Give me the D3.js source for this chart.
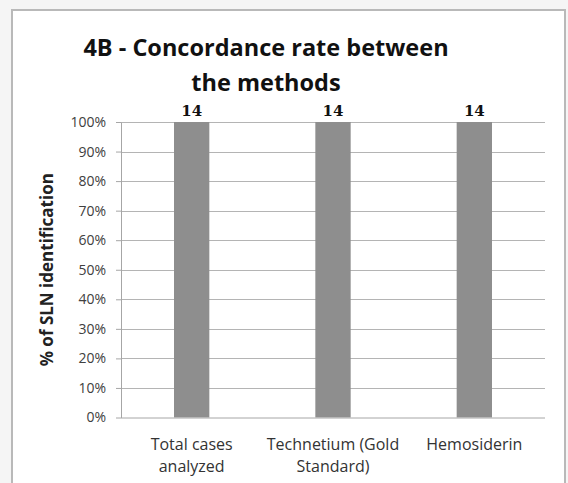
<!DOCTYPE html>
<html>
<head>
<meta charset="utf-8">
<style>
  body { margin: 0; background-color: #f5f5f5; }
  svg { font-family: 'Open Sans', sans-serif; }
  .grid line { stroke: #b4b4b4; stroke-width: 1px; }
  .axis path, .axis line { stroke: #a6a6a6; }
  .axis text { fill: #404040; }
</style>
</head>
<body>
<script src="https://d3js.org/d3.v7.min.js"></script>
<div id="chart"></div>
<script>

// data
var categories = [["Total cases", "analyzed"], ["Technetium (Gold", "Standard)"], ["Hemosiderin"]];
var percents = [100, 100, 100];
var counts = [14, 14, 14];
var yTicks = [0, 10, 20, 30, 40, 50, 60, 70, 80, 90, 100];

var W = 568, H = 483;
var margin = {top: 122, left: 121, right: 23, bottom: 65};
var width = W - margin.left - margin.right,
    height = H - margin.top - margin.bottom - 0.5;

var svg = d3.select("#chart").append("svg")
    .attr("width", W)
    .attr("height", H);

// frame
svg.append("rect")
    .attr("x", 12).attr("y", 10)
    .attr("width", 553).attr("height", 480)
    .attr("fill", "white")
    .attr("stroke", "#b9b9b9")
    .attr("stroke-width", 2);

// title
var title = svg.append("text")
    .attr("text-anchor", "middle")
    .attr("font-weight", "bold")
    .attr("font-size", "23.5px")
    .attr("fill", "#111");
title.append("tspan").attr("x", 266).attr("y", 56).text("4B - Concordance rate between");
title.append("tspan").attr("x", 266).attr("y", 91).text("the methods");

var g = svg.append("g")
    .attr("transform", "translate(" + margin.left + "," + margin.top + ")");

var x = d3.scaleBand()
    .domain(d3.range(categories.length))
    .range([0, width])
    .paddingInner(0.75)
    .paddingOuter(0.375);

var y = d3.scaleLinear()
    .domain([0, 100])
    .range([height, 0]);

// gridlines
g.append("g").attr("class", "grid")
  .selectAll("line")
  .data(yTicks.slice(1))
  .enter().append("line")
    .attr("x1", 0).attr("x2", width)
    .attr("y1", function(d) { return Math.round(y(d)) + 0.5; })
    .attr("y2", function(d) { return Math.round(y(d)) + 0.5; });

// bars
g.selectAll(".bar")
  .data(percents)
  .enter().append("rect")
    .attr("class", "bar")
    .attr("x", function(d, i) { return x(i); })
    .attr("y", function(d) { return y(d); })
    .attr("width", x.bandwidth())
    .attr("height", function(d) { return height - y(d); })
    .attr("fill", "#8e8e8e");

// y axis
var yAxis = g.append("g").attr("class", "axis")
    .call(d3.axisLeft(y).tickValues(yTicks).tickSize(5).tickSizeOuter(0)
      .tickFormat(function(d) { return d + "%"; }));
yAxis.selectAll("text")
    .attr("font-family", "'Open Sans', sans-serif")
    .attr("font-size", "14px")
    .attr("x", -15);

// x axis line
g.append("line")
    .attr("x1", 0).attr("x2", width)
    .attr("y1", height + 0.5).attr("y2", height + 0.5)
    .attr("stroke", "#a6a6a6");

// x labels
var xl = g.selectAll(".xlab")
  .data(categories)
  .enter().append("text")
    .attr("class", "xlab")
    .attr("text-anchor", "middle")
    .attr("font-size", "16px")
    .attr("fill", "#333");
xl.each(function(lines, i) {
  var t = d3.select(this);
  lines.forEach(function(s, k) {
    t.append("tspan")
      .attr("x", x(i) + x.bandwidth() / 2)
      .attr("y", height + 32 + k * 22)
      .text(s);
  });
});

// data labels
g.selectAll(".val")
  .data(counts)
  .enter().append("text")
    .attr("class", "val")
    .attr("text-anchor", "middle")
    .attr("x", function(d, i) { return x(i) + x.bandwidth() / 2; })
    .attr("y", function(d, i) { return y(percents[i]) - 6; })
    .attr("font-family", "'DejaVu Serif', serif")
    .attr("font-weight", "bold")
    .attr("font-size", "15px")
    .attr("fill", "#111")
    .text(function(d) { return d; });

// y axis title
svg.append("text")
    .attr("transform", "translate(53," + (margin.top + height / 2) + ") rotate(-90)")
    .attr("text-anchor", "middle")
    .attr("font-weight", "bold")
    .attr("font-size", "17px")
    .attr("fill", "#222")
    .text("% of SLN identification");

</script>
</body>
</html>
